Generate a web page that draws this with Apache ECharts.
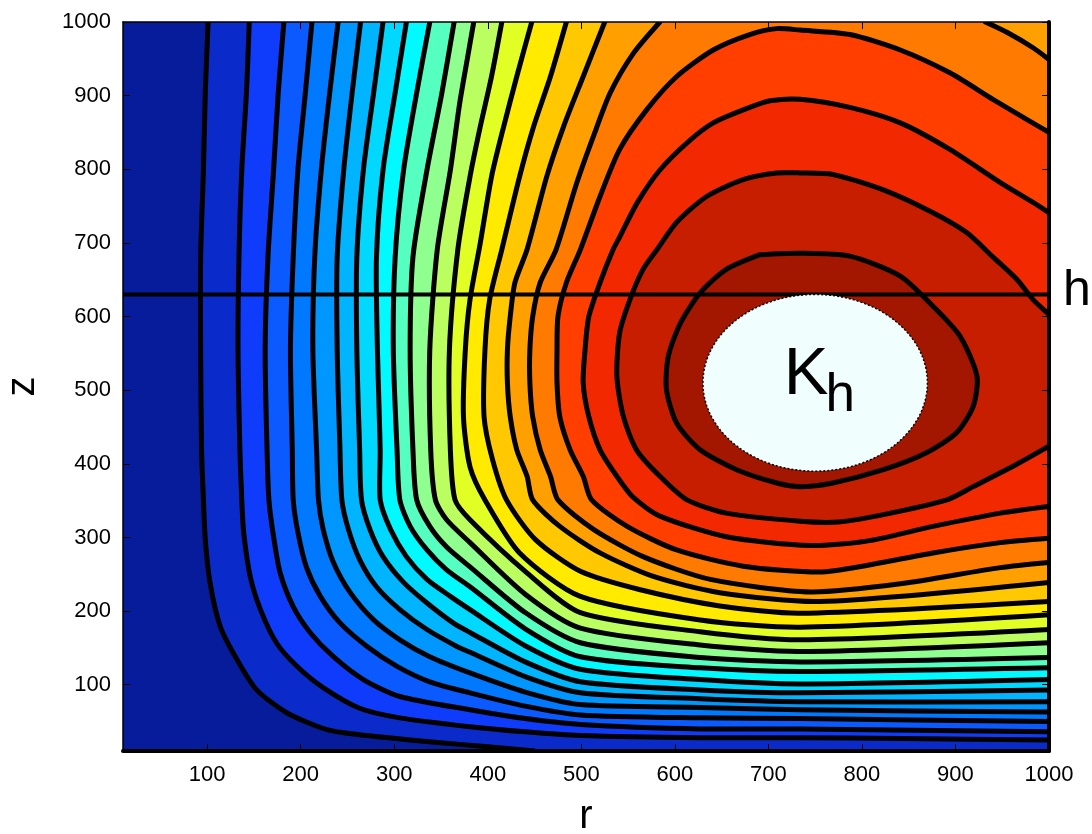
<!DOCTYPE html>
<html>
<head>
<meta charset="utf-8">
<script src="https://cdn.jsdelivr.net/npm/echarts@6/dist/echarts.min.js"></script>
<style>
  html, body { margin: 0; padding: 0; background: #ffffff; }
  #chart { width: 1092px; height: 834px; }
</style>
</head>
<body>
<div id="chart"></div>
<script>
// Axis ranges and tick values
const rMin = 10, rMax = 1000;
const zMin = 10, zMax = 1000;
const rTicks = [100, 200, 300, 400, 500, 600, 700, 800, 900, 1000];
const zTicks = [100, 200, 300, 400, 500, 600, 700, 800, 900, 1000];

// Fill colours of the bands, lowest level first
const bandColors = [
  '#071C9B', '#0A2BC9', '#0F3CFA', '#0A5AFF', '#0078FF', '#0096FF', '#00B4FF',
  '#00D8FF', '#00FAFF', '#55FFC0', '#8FFF8F', '#BAFF5F', '#E2FF25', '#FFEA00',
  '#FFC800', '#FFA000', '#FF7A00', '#FF3E00', '#F22800', '#C81E00', '#A31600'
];

// Contour lines as [r, z] points
const level01 = [[101,1000],[98,904],[96,799],[93,681],[93,555],[94,419],[96,351],[98,297],[103,239],[114,179],[132,134],[153,93],[185,62],[228,39],[263,32],[317,25],[370,19],[424,13],[450,10]];
const level02 = [[145,1000],[142,904],[137,799],[134,681],[133,555],[135,419],[137,351],[139,307],[146,247],[157,202],[174,157],[196,125],[224,96],[263,68],[306,55],[381,43],[440,36],[499,31],[627,28],[734,28],[841,27],[1000,25]];
const level03 = [[182,1000],[176,904],[171,799],[165,681],[162,555],[164,419],[166,351],[171,301],[178,252],[192,206],[210,171],[235,138],[267,107],[306,84],[381,66],[440,54],[499,46],[627,40],[734,40],[1000,36]];
const level04 = [[212,1000],[205,904],[197,799],[192,681],[189,555],[191,419],[192,351],[197,307],[206,260],[221,220],[242,184],[271,152],[303,125],[338,104],[381,89],[440,71],[499,59],[627,55],[734,54],[1000,50]];
const level05 = [[240,1000],[231,904],[222,799],[215,681],[213,555],[217,419],[219,351],[224,311],[235,266],[253,225],[278,188],[306,161],[338,138],[381,116],[440,90],[499,73],[627,69],[734,66],[1000,63]];
const level06 = [[264,1000],[255,904],[246,799],[239,681],[239,555],[242,419],[244,351],[251,311],[263,270],[281,233],[306,202],[335,175],[367,152],[381,144],[440,111],[499,89],[627,81],[734,77],[1000,77]];
const level07 = [[288,1000],[278,904],[267,799],[260,681],[260,555],[263,419],[265,351],[274,311],[288,274],[310,239],[335,211],[363,184],[381,171],[440,131],[499,104],[627,93],[734,89],[1000,93]];
const level08 = [[313,1000],[301,904],[288,799],[281,681],[282,555],[285,419],[285,351],[296,311],[313,274],[335,243],[360,220],[381,202],[440,153],[499,121],[627,107],[734,101],[1000,107]];
const level09 = [[338,1000],[324,904],[310,799],[301,681],[299,555],[303,419],[306,351],[317,315],[335,283],[356,256],[381,233],[440,176],[499,138],[627,123],[734,118],[1000,123]];
const level10 = [[364,1000],[351,904],[335,799],[320,681],[317,555],[320,419],[324,351],[338,315],[356,287],[381,260],[440,198],[499,157],[627,137],[734,131],[1000,137]];
const level11 = [[385,1000],[378,949],[370,890],[360,799],[346,691],[338,555],[339,419],[344,351],[356,324],[381,293],[440,223],[499,177],[627,154],[734,145],[1000,157]];
const level12 = [[415,1000],[404,926],[392,858],[381,790],[368,691],[359,555],[360,419],[365,351],[381,324],[440,254],[499,198],[627,172],[734,161],[1000,175]];
const level13 = [[447,1000],[431,926],[417,858],[404,790],[392,700],[381,623],[376,555],[374,464],[381,396],[397,351],[434,279],[499,220],[627,188],[734,178],[1000,195]];
const level14 = [[484,1000],[467,926],[449,858],[434,790],[415,691],[402,623],[397,555],[396,464],[405,406],[420,351],[451,297],[499,254],[563,229],[648,207],[734,197],[1000,213]];
const level15 = [[525,1000],[502,926],[481,858],[463,790],[442,691],[429,646],[424,600],[421,555],[421,510],[424,464],[431,419],[442,383],[448,351],[477,315],[520,279],[577,247],[648,225],[755,213],[1000,239]];
const level16 = [[584,1000],[556,958],[531,904],[513,845],[495,781],[473,691],[456,646],[448,600],[445,555],[445,510],[448,464],[456,419],[467,383],[475,351],[513,311],[566,274],[638,243],[745,226],[841,237],[948,259],[1000,266]];
const level16Corner = [[932,1000],[955,986],[983,965],[1000,949]];
const level17 = [[1000,850],[977,867],[940,895],[894,931],[841,962],[787,983],[734,989],[709,991],[680,983],[641,962],[602,926],[570,881],[541,827],[520,763],[499,691],[484,646],[475,600],[474,555],[474,510],[477,464],[488,419],[502,383],[511,351],[549,315],[602,283],[673,261],[755,253],[805,262],[876,279],[948,293],[1000,299]];
const level18 = [[1000,741],[983,755],[948,782],[894,827],[841,863],[787,884],[734,895],[702,893],[680,884],[641,863],[613,836],[584,799],[560,755],[541,708],[534,691],[520,646],[508,600],[504,555],[502,510],[508,464],[520,419],[538,383],[555,355],[584,329],[655,301],[745,289],[805,295],[876,315],[948,333],[1000,342]];
const level19 = [[1000,603],[983,623],[966,650],[940,681],[912,714],[876,741],[823,772],[769,793],[734,795],[709,795],[673,786],[634,763],[602,728],[581,691],[566,664],[552,623],[541,578],[538,519],[545,464],[559,419],[584,383],[613,351],[655,333],[734,322],[775,321],[823,331],[891,351],[919,369],[962,397],[1000,424]];
const level20 = [[691,684],[734,686],[787,682],[841,655],[876,614],[905,573],[923,519],[919,478],[901,442],[869,415],[823,392],[769,374],[734,369],[709,374],[666,392],[627,419],[602,455],[591,501],[593,546],[606,591],[627,632],[655,664]];

// Marked height and the region K_h
const hLevel = 630;
const kCenter = [750, 510];
const kRadius = 120;

const fontFamily = '"Liberation Sans", Arial, Helvetica, sans-serif';

// Each level: the stroked contour pieces and the closed region above that level
const topRight = [rMax, zMax];
const bottomRight = [rMax, zMin];
const levels = [
  { lines: [level01], region: level01.concat([bottomRight, topRight]) },
  { lines: [level02], region: level02.concat([topRight]) },
  { lines: [level03], region: level03.concat([topRight]) },
  { lines: [level04], region: level04.concat([topRight]) },
  { lines: [level05], region: level05.concat([topRight]) },
  { lines: [level06], region: level06.concat([topRight]) },
  { lines: [level07], region: level07.concat([topRight]) },
  { lines: [level08], region: level08.concat([topRight]) },
  { lines: [level09], region: level09.concat([topRight]) },
  { lines: [level10], region: level10.concat([topRight]) },
  { lines: [level11], region: level11.concat([topRight]) },
  { lines: [level12], region: level12.concat([topRight]) },
  { lines: [level13], region: level13.concat([topRight]) },
  { lines: [level14], region: level14.concat([topRight]) },
  { lines: [level15], region: level15.concat([topRight]) },
  { lines: [level16, level16Corner], region: level16.concat(level16Corner.slice().reverse()) },
  { lines: [level17], region: level17 },
  { lines: [level18], region: level18 },
  { lines: [level19], region: level19 },
  { lines: [level20.concat([level20[0]])], region: level20 }
];

const chart = echarts.init(document.getElementById('chart'), null, { renderer: 'canvas' });

function contourItem(params, api) {
  const children = [];
  const a = api.coord([rMin, zMax]);
  const b = api.coord([rMax, zMin]);
  children.push({
    type: 'rect',
    shape: { x: a[0], y: a[1], width: b[0] - a[0], height: b[1] - a[1] },
    style: { fill: bandColors[0] }
  });
  levels.forEach(function (lv, i) {
    children.push({
      type: 'polygon',
      shape: { points: lv.region.map(function (p) { return api.coord(p); }) },
      style: { fill: bandColors[i + 1], stroke: bandColors[i + 1], lineWidth: 0.5 }
    });
  });
  levels.forEach(function (lv) {
    lv.lines.forEach(function (line) {
      children.push({
        type: 'polyline',
        shape: { points: line.map(function (p) { return api.coord(p); }), smooth: 0.25 },
        style: { stroke: '#000000', lineWidth: 5, fill: null, lineJoin: 'round', lineCap: 'round' }
      });
    });
  });
  return { type: 'group', children: children };
}

function annotationItem(params, api) {
  const l0 = api.coord([rMin, hLevel]);
  const l1 = api.coord([rMax, hLevel]);
  const c = api.coord(kCenter);
  const rx = api.size([kRadius, 0])[0];
  const ry = api.size([0, kRadius])[1];
  return {
    type: 'group',
    children: [
      {
        type: 'line',
        shape: { x1: l0[0], y1: l0[1], x2: l1[0], y2: l1[1] },
        style: { stroke: '#000000', lineWidth: 4 }
      },
      {
        type: 'text',
        x: l1[0] + 14, y: l1[1] - 3,
        style: { text: 'h', fontSize: 50, fontFamily: fontFamily, fill: '#000000', align: 'left', verticalAlign: 'middle' }
      },
      {
        type: 'ellipse',
        shape: { cx: c[0], cy: c[1], rx: rx, ry: ry },
        style: { fill: '#F0FFFE', stroke: '#000000', lineWidth: 1.5, lineDash: [2, 2] }
      },
      {
        type: 'text',
        x: c[0] - 9, y: c[1] - 7,
        style: { text: 'K', fontSize: 67, fontFamily: fontFamily, fill: '#000000', align: 'center', verticalAlign: 'middle' }
      },
      {
        type: 'text',
        x: c[0] + 25, y: c[1] + 14,
        style: { text: 'h', fontSize: 53, fontFamily: fontFamily, fill: '#000000', align: 'center', verticalAlign: 'middle' }
      }
    ]
  };
}

const tickStyle = { inside: true, length: 7, lineStyle: { color: '#000000', width: 1 } };
const plainNumber = function (v) { return String(v); };

chart.setOption({
  animation: false,
  backgroundColor: '#ffffff',
  grid: { left: 123, right: 43, top: 22, bottom: 83, containLabel: false, outerBoundsMode: 'none' },
  xAxis: [
    {
      type: 'value', min: rMin, max: rMax, position: 'bottom', z: 10,
      name: 'r', nameLocation: 'middle', nameGap: 46,
      nameTextStyle: { fontSize: 40, color: '#000000', fontFamily: fontFamily },
      axisLine: { onZero: false, lineStyle: { color: '#000000', width: 4 } },
      axisTick: Object.assign({ customValues: rTicks }, tickStyle),
      axisLabel: { customValues: rTicks, formatter: plainNumber, fontSize: 22, color: '#000000', margin: 13, fontFamily: fontFamily },
      splitLine: { show: false }
    },
    {
      type: 'value', min: rMin, max: rMax, position: 'top', z: 10,
      axisLine: { onZero: false, lineStyle: { color: '#000000', width: 1.5 } },
      axisTick: Object.assign({ customValues: rTicks }, tickStyle),
      axisLabel: { show: false },
      splitLine: { show: false }
    }
  ],
  yAxis: [
    {
      type: 'value', min: zMin, max: zMax, position: 'left', z: 10,
      name: 'z', nameLocation: 'middle', nameGap: 80, nameRotate: 90,
      nameTextStyle: { fontSize: 40, color: '#000000', fontFamily: fontFamily },
      axisLine: { onZero: false, lineStyle: { color: '#000000', width: 1.5 } },
      axisTick: Object.assign({ customValues: zTicks }, tickStyle),
      axisLabel: { customValues: zTicks, formatter: plainNumber, fontSize: 22, color: '#000000', margin: 12, fontFamily: fontFamily },
      splitLine: { show: false }
    },
    {
      type: 'value', min: zMin, max: zMax, position: 'right', z: 10,
      axisLine: { onZero: false, lineStyle: { color: '#000000', width: 4 } },
      axisTick: Object.assign({ customValues: zTicks }, tickStyle),
      axisLabel: { show: false },
      splitLine: { show: false }
    }
  ],
  series: [
    {
      type: 'custom',
      xAxisIndex: 0, yAxisIndex: 0,
      renderItem: contourItem,
      data: [[rMin, zMin]],
      clip: true,
      silent: true,
      z: 1
    },
    {
      type: 'custom',
      xAxisIndex: 0, yAxisIndex: 0,
      renderItem: annotationItem,
      data: [[rMin, zMin]],
      clip: false,
      silent: true,
      z: 5
    }
  ]
});
</script>
</body>
</html>
